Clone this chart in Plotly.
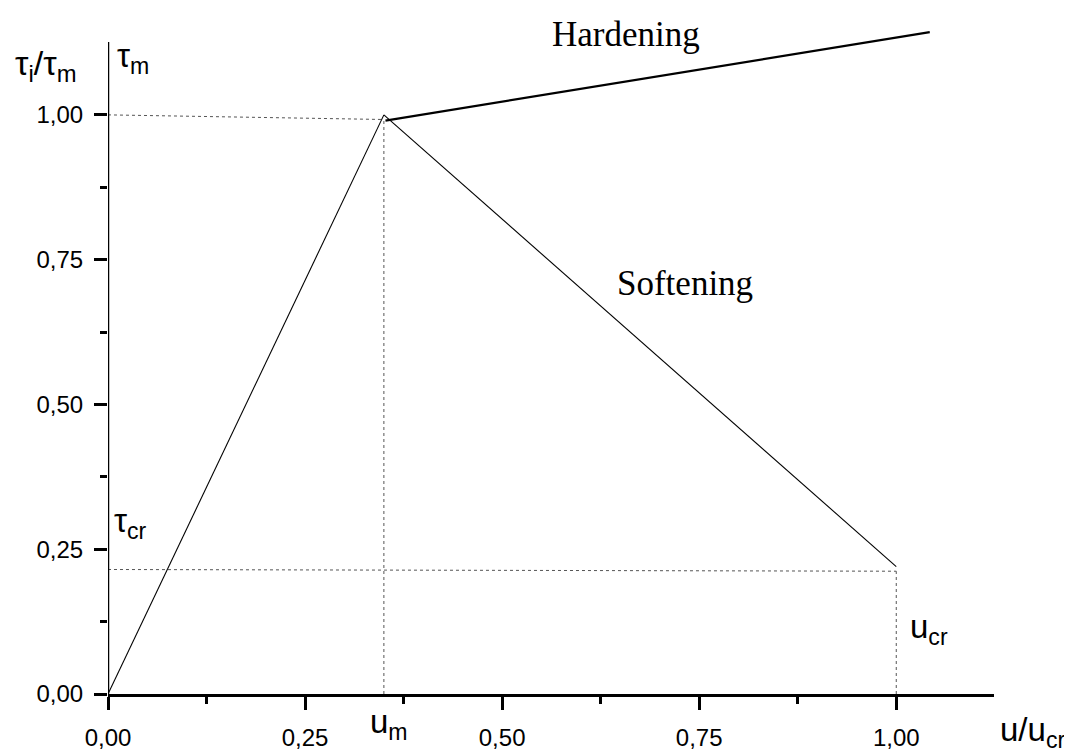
import plotly.graph_objects as go

# ---- data ----
u_m = 0.35          # displacement at peak
tau_m = 1.0         # peak stress
u_cr = 1.0          # critical displacement
tau_cr = 0.215      # residual stress

rise_x = [0.0, 0.35]
rise_y = [0.0, 1.0]
hard_x = [0.352, 1.0425]
hard_y = [0.99, 1.143]
soft_x = [0.35, 1.0]
soft_y = [1.0, 0.22]

ref_h1_x = [0.0, 0.35];  ref_h1_y = [1.0, 0.992]
ref_v1_x = [0.35, 0.35]; ref_v1_y = [0.0, 0.99]
ref_h2_x = [0.0, 1.0];   ref_h2_y = [0.215, 0.212]
ref_v2_x = [1.0, 1.0];   ref_v2_y = [0.0, 0.212]

x_ticks = [0.0, 0.25, 0.50, 0.75, 1.00]
x_ticktext = ["0,00", "0,25", "0,50", "0,75", "1,00"]
y_ticks = [0.0, 0.25, 0.50, 0.75, 1.00]
y_ticktext = ["0,00", "0,25", "0,50", "0,75", "1,00"]
minor_ticks = [0.125, 0.375, 0.625, 0.875]

# ---- layout geometry ----
W, H = 1072, 755
L, R, T, B = 100, 86, 20, 67
XMAX, YMAX = 1.124, 1.15
plot_w = W - L - R
plot_h = H - T - B


def px(xp):
    return (xp - L) / plot_w


def py(yp):
    return (H - B - yp) / plot_h


fig = go.Figure()

dash_style = dict(color="#555555", width=1, dash="dot")
for xs, ys in [(ref_h1_x, ref_h1_y), (ref_v1_x, ref_v1_y),
               (ref_h2_x, ref_h2_y), (ref_v2_x, ref_v2_y)]:
    fig.add_trace(go.Scatter(x=xs, y=ys, mode="lines", line=dash_style,
                             hoverinfo="skip", showlegend=False))

fig.add_trace(go.Scatter(x=rise_x, y=rise_y, mode="lines",
                         line=dict(color="black", width=1.1), showlegend=False))
fig.add_trace(go.Scatter(x=soft_x, y=soft_y, mode="lines",
                         line=dict(color="black", width=1.1), showlegend=False))
fig.add_trace(go.Scatter(x=hard_x, y=hard_y, mode="lines",
                         line=dict(color="black", width=2.2), showlegend=False))

# y axis line (shorter than plot area)
fig.add_shape(type="line", x0=0, x1=0, y0=0, y1=1.126, xref="x", yref="y",
              line=dict(color="black", width=2.5))

sans = "Liberation Sans, Arial, sans-serif"
serif = "Liberation Serif, Times New Roman, serif"

ann = [
    dict(text="τ<sub>i</sub>/τ<sub>m</sub>", x=px(5), y=py(58), xanchor="left", yanchor="middle",
         font=dict(family=sans, size=34)),
    dict(text="τ<sub>m</sub>", x=px(107), y=py(50), xanchor="left", yanchor="middle",
         font=dict(family=sans, size=33)),
    dict(text="τ<sub>cr</sub>", x=px(104), y=py(516), xanchor="left", yanchor="middle",
         font=dict(family=sans, size=33)),
    dict(text="u<sub>m</sub>", x=px(360), y=py(718), xanchor="left", yanchor="middle",
         font=dict(family=sans, size=33)),
    dict(text="u<sub>cr</sub>", x=px(900), y=py(623), xanchor="left", yanchor="middle",
         font=dict(family=sans, size=33)),
    dict(text="u/u<sub>cr</sub>", x=px(990), y=py(726), xanchor="left", yanchor="middle",
         font=dict(family=sans, size=33)),
    dict(text="Hardening", x=px(542), y=py(27), xanchor="left", yanchor="middle",
         font=dict(family=serif, size=35)),
    dict(text="Softening", x=px(607), y=py(276), xanchor="left", yanchor="middle",
         font=dict(family=serif, size=35)),
]
for a in ann:
    a.update(xref="paper", yref="paper", showarrow=False)
    fig.add_annotation(**a)

fig.update_layout(
    width=W, height=H,
    margin=dict(l=L, r=R, t=T, b=B, pad=0),
    paper_bgcolor="white", plot_bgcolor="white",
    font=dict(family=sans, color="black"),
    xaxis=dict(range=[0, XMAX], showgrid=False, zeroline=False,
               showline=True, linecolor="black", linewidth=2.5,
               ticks="outside", ticklen=13, tickwidth=2.5, tickcolor="black",
               tickvals=x_ticks, ticktext=x_ticktext,
               tickfont=dict(family=sans, size=24),
               ticklabelstandoff=7,
               minor=dict(tickvals=minor_ticks, ticks="outside", ticklen=7,
                          tickwidth=2.5, tickcolor="black", showgrid=False)),
    yaxis=dict(range=[0, YMAX], showgrid=False, zeroline=False,
               showline=False,
               ticks="outside", ticklen=13, tickwidth=2.5, tickcolor="black",
               tickvals=y_ticks, ticktext=y_ticktext,
               tickfont=dict(family=sans, size=24),
               ticklabelstandoff=6,
               minor=dict(tickvals=minor_ticks, ticks="outside", ticklen=7,
                          tickwidth=2.5, tickcolor="black", showgrid=False)),
)

fig.write_html("out.html")
